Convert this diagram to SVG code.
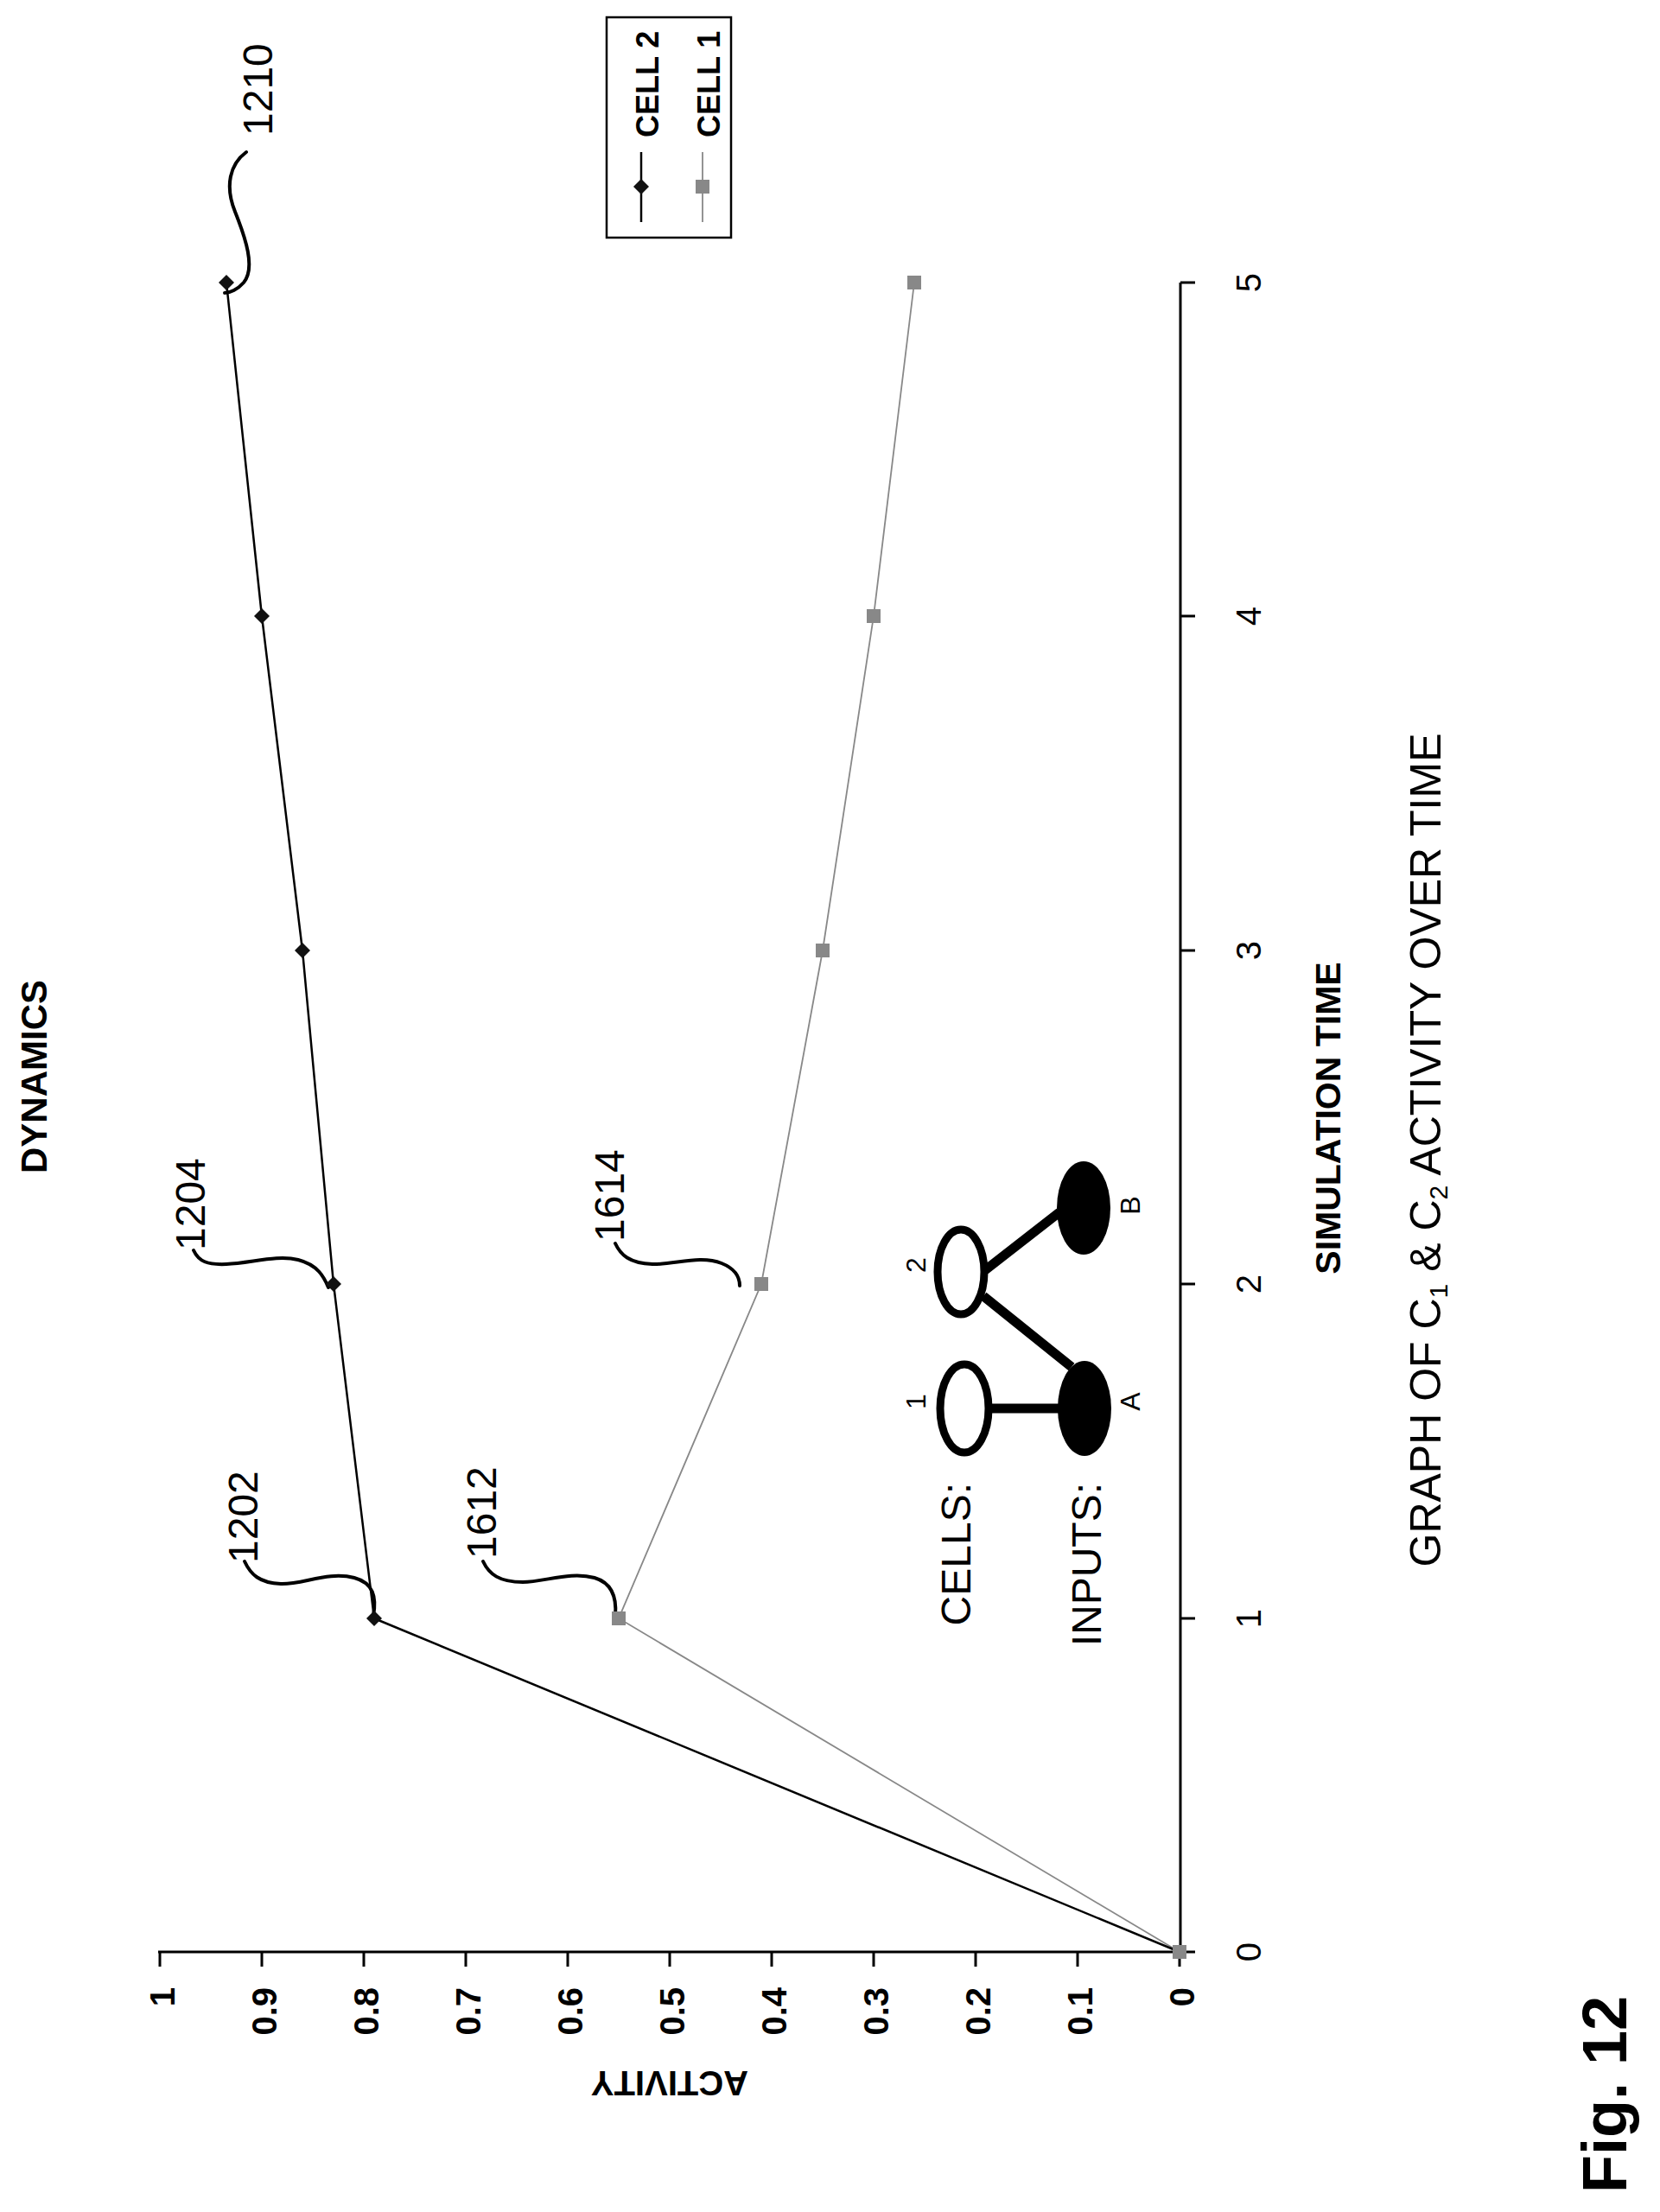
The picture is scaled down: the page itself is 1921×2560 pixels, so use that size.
<svg xmlns="http://www.w3.org/2000/svg" width="1921" height="2560" viewBox="0 0 1921 2560">
<style>
text{font-family:"Liberation Sans",Arial,sans-serif;fill:#000}
.b{font-weight:bold}
.ax{stroke:#000;stroke-width:3;fill:none}
.c2{stroke:#000;stroke-width:2.5;fill:none}
.c1{stroke:#888;stroke-width:1.8;fill:none}
.ld{stroke:#000;stroke-width:4;fill:none;stroke-linecap:round}
.lk{stroke:#000;stroke-width:11}
</style>
<defs>
<path id="dia" d="M0,-9 L9,0 L0,9 L-9,0 Z" fill="#111"/>
<rect id="sq" x="-8" y="-8" width="16" height="16" fill="#888"/>
</defs>
<rect width="1921" height="2560" fill="#fff"/>
<g id="axes">
<path class="ax" d="M183,2259 H1366 V327 M1366,327 H1383 M1366,713 H1383 M1366,1100 H1383 M1366,1486 H1383 M1366,1873 H1383 M1366,2259 H1383"/>
<path class="ax" d="M185,2259V2276 M303,2259V2276 M421,2259V2276 M539,2259V2276 M657,2259V2276 M775,2259V2276 M893,2259V2276 M1011,2259V2276 M1129,2259V2276 M1247,2259V2276 M1365,2259V2276"/>
<g class="b" font-size="40" text-anchor="end">
<text transform="translate(202,2300) rotate(-90)">1</text>
<text transform="translate(320,2300) rotate(-90)">0.9</text>
<text transform="translate(438,2300) rotate(-90)">0.8</text>
<text transform="translate(556,2300) rotate(-90)">0.7</text>
<text transform="translate(674,2300) rotate(-90)">0.6</text>
<text transform="translate(792,2300) rotate(-90)">0.5</text>
<text transform="translate(910,2300) rotate(-90)">0.4</text>
<text transform="translate(1028,2300) rotate(-90)">0.3</text>
<text transform="translate(1146,2300) rotate(-90)">0.2</text>
<text transform="translate(1264,2300) rotate(-90)">0.1</text>
<text transform="translate(1382,2300) rotate(-90)">0</text>
</g>
<g font-size="40" text-anchor="middle">
<text transform="translate(1459,2259) rotate(-90)">0</text>
<text transform="translate(1459,1873) rotate(-90)">1</text>
<text transform="translate(1459,1486) rotate(-90)">2</text>
<text transform="translate(1459,1100) rotate(-90)">3</text>
<text transform="translate(1459,713) rotate(-90)">4</text>
<text transform="translate(1459,327) rotate(-90)">5</text>
</g>
<text class="b" font-size="40" text-anchor="middle" transform="translate(775,2397) rotate(180)">ACTIVITY</text>
<text class="b" font-size="41" text-anchor="middle" transform="translate(1551,1294) rotate(-90)">SIMULATION TIME</text>
</g>
<g id="connectors">
<polyline class="c1" points="1365,2259 716,1873 881,1486 952,1100 1011,713 1058,327"/>
<polyline class="c2" points="1365,2259 433,1873 386,1486 350,1100 303,713 262,327"/>
<path class="ld" d="M285,176 C266,190 260,215 272,245 C284,275 296,310 282,327 C275,335 266,339 260,339"/>
<path class="ld" d="M224,1447 C230,1460 240,1464 262,1463 C290,1462 320,1452 345,1458 C368,1464 375,1478 380,1490"/>
<path class="ld" d="M283,1807 C290,1822 300,1832 325,1833 C350,1834 380,1818 410,1826 C432,1832 436,1848 432,1870"/>
<path class="ld" d="M559,1807 C566,1822 578,1831 605,1831 C630,1831 660,1818 688,1826 C708,1832 714,1848 712,1870"/>
<path class="ld" d="M712,1439 C718,1452 728,1462 755,1463 C780,1464 810,1452 835,1462 C850,1468 856,1478 856,1488"/>
</g>
<g id="markers">
<use href="#sq" x="1365" y="2259"/><use href="#sq" x="716" y="1873"/><use href="#sq" x="881" y="1486"/><use href="#sq" x="952" y="1100"/><use href="#sq" x="1011" y="713"/><use href="#sq" x="1058" y="327"/>
<use href="#dia" x="433" y="1873"/><use href="#dia" x="386" y="1486"/><use href="#dia" x="350" y="1100"/><use href="#dia" x="303" y="713"/><use href="#dia" x="262" y="327"/>
</g>
<g id="refs" font-size="48">
<text transform="translate(315,157) rotate(-90)">1210</text>
<text transform="translate(237,1447) rotate(-90)">1204</text>
<text transform="translate(298,1809) rotate(-90)">1202</text>
<text transform="translate(574,1804) rotate(-90)">1612</text>
<text transform="translate(722,1437) rotate(-90)">1614</text>
</g>
<g id="legend">
<rect x="702" y="20" width="144" height="255" fill="#fff" stroke="#000" stroke-width="2.5"/>
<line x1="742" y1="176" x2="742" y2="257" stroke="#000" stroke-width="2.5"/>
<use href="#dia" x="742" y="216"/>
<line x1="813" y1="176" x2="813" y2="257" stroke="#888" stroke-width="1.8"/>
<use href="#sq" x="813" y="216"/>
<text class="b" font-size="36" transform="translate(762,159) rotate(-90)">CELL 2</text>
<text class="b" font-size="36" transform="translate(833,159) rotate(-90)">CELL 1</text>
</g>
<g id="network">
<line class="lk" x1="1145" y1="1630" x2="1230" y2="1630"/>
<line class="lk" x1="1138" y1="1500" x2="1240" y2="1582"/>
<line class="lk" x1="1140" y1="1470" x2="1226" y2="1403"/>
<ellipse id="cell1" cx="1116" cy="1630" rx="28" ry="51" fill="#fff" stroke="#000" stroke-width="9"/>
<ellipse id="cell2" cx="1112" cy="1472" rx="27" ry="49" fill="#fff" stroke="#000" stroke-width="9"/>
<ellipse id="inA" cx="1255" cy="1630" rx="31" ry="55" fill="#000"/>
<ellipse id="inB" cx="1254" cy="1398" rx="31" ry="54" fill="#000"/>
<g font-size="32" text-anchor="middle">
<text transform="translate(1071,1622) rotate(-90)">1</text>
<text transform="translate(1071,1464) rotate(-90)">2</text>
<text transform="translate(1319,1622) rotate(-90)">A</text>
<text transform="translate(1319,1395) rotate(-90)">B</text>
</g>
<g font-size="48" text-anchor="end">
<text transform="translate(1123,1716) rotate(-90)">CELLS:</text>
<text transform="translate(1274,1716) rotate(-90)">INPUTS:</text>
</g>
</g>
<g id="titles">
<text class="b" font-size="42" text-anchor="middle" transform="translate(54,1246) rotate(-90)">DYNAMICS</text>
<text font-size="50" text-anchor="middle" transform="translate(1667,1331) rotate(-90)">GRAPH OF C<tspan font-size="30" dy="8">1</tspan><tspan dy="-8"> &amp; C</tspan><tspan font-size="30" dy="8">2</tspan><tspan dy="-8"> ACTIVITY OVER TIME</tspan></text>
<text class="b" font-size="72" transform="translate(1882,2538) rotate(-90)">Fig. 12</text>
</g>
</svg>
